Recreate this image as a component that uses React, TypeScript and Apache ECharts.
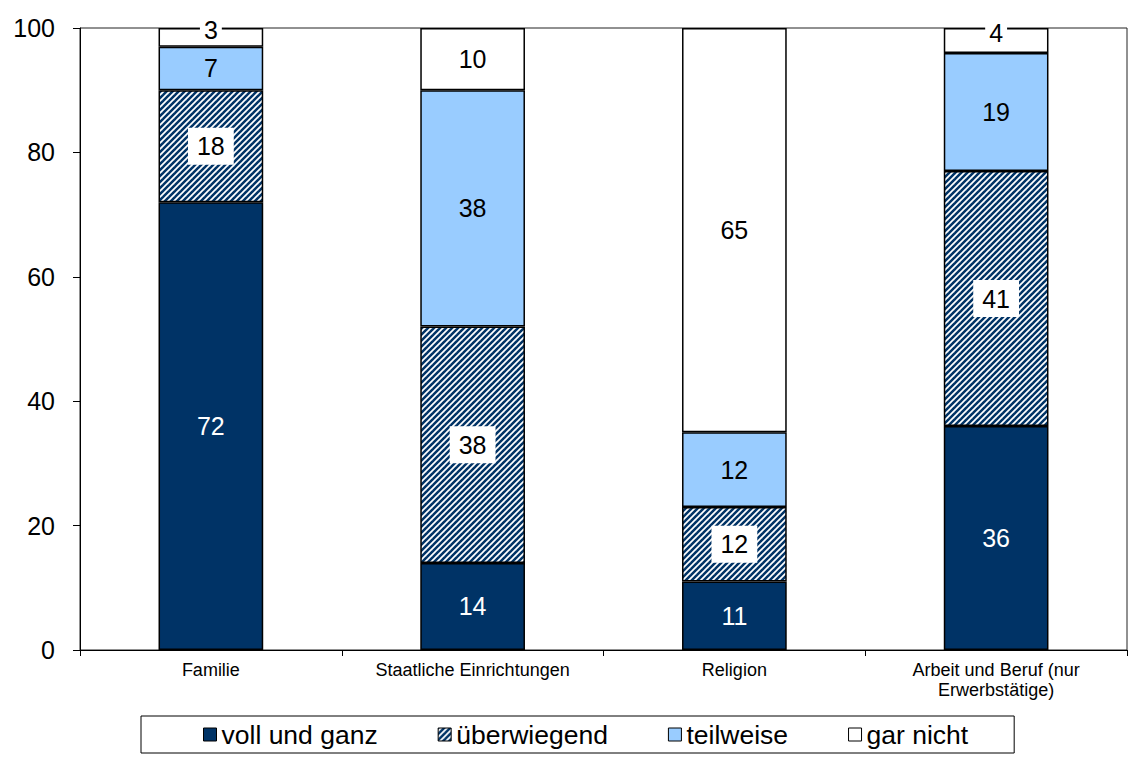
import React, { useEffect, useRef } from "react";
import * as echarts from "echarts";

const categories = ["Familie", "Staatliche Einrichtungen", "Religion", "Arbeit und Beruf (nur\nErwerbstätige)"];
const seriesNames = ["voll und ganz", "überwiegend", "teilweise", "gar nicht"];
const vollUndGanz = [72, 14, 11, 36];
const ueberwiegend = [18, 38, 12, 41];
const teilweise = [7, 38, 12, 19];
const garNicht = [3, 10, 65, 4];
const yTicks = { min: 0, max: 100, interval: 20 };

const NAVY = "#003366";
const LIGHT = "#99CCFF";
const FONT = "'Liberation Sans', Arial, sans-serif";

function makeHatch() {
  const N = 6;
  const c = document.createElement("canvas");
  c.width = N;
  c.height = N;
  const ctx = c.getContext("2d")!;
  ctx.fillStyle = "#ffffff";
  ctx.fillRect(0, 0, N, N);
  ctx.strokeStyle = NAVY;
  ctx.lineWidth = N / (2 * Math.SQRT2) + 0.4;
  for (let k = -2; k <= 3; k++) {
    const cc = k * N;
    ctx.beginPath();
    ctx.moveTo(cc + N * 2, -N * 2);
    ctx.lineTo(cc - N * 2, N * 2);
    ctx.stroke();
  }
  return c;
}

export default function App() {
  const ref = useRef<HTMLDivElement>(null);
  useEffect(() => {
    if (!ref.current) return;
    const chart = echarts.init(ref.current, null, { renderer: "svg" });
    const hatch = makeHatch();
    const border = { borderColor: "#000", borderWidth: 1.5 };
    const labelBase = {
      show: true,
      position: "inside" as const,
      fontSize: 25,
      fontFamily: FONT,
      color: "#000",
    };
    const mk = (name: string, data: number[], fill: any, label: any) => ({
      name,
      type: "bar",
      stack: "total",
      barWidth: "40%",
      data: data.map((v) => ({
        value: v,
        label: v < 5 ? { offset: [0, -7] } : undefined,
      })),
      itemStyle: { color: fill, ...border },
      label: { ...labelBase, ...label },
    });
    chart.setOption({
      animation: false,
      grid: {
        left: 80,
        right: 8,
        top: 28,
        bottom: 115,
        show: true,
        borderColor: "#222",
        borderWidth: 1,
      },
      xAxis: {
        type: "category",
        data: categories,
        axisLine: { lineStyle: { color: "#000", width: 1 } },
        axisTick: { show: true, length: 6, lineStyle: { color: "#000" } },
        axisLabel: { fontSize: 18, fontFamily: FONT, color: "#000", margin: 10, lineHeight: 20 },
      },
      yAxis: {
        type: "value",
        min: yTicks.min,
        max: yTicks.max,
        interval: yTicks.interval,
        axisLine: { show: true, lineStyle: { color: "#000", width: 1 } },
        axisTick: { show: true, length: 7, lineStyle: { color: "#000" } },
        splitLine: { show: false },
        axisLabel: { fontSize: 25, fontFamily: FONT, color: "#000", margin: 25 },
      },
      legend: {
        left: 141,
        top: 716,
        data: seriesNames,
        padding: [5, 46, 5, 62],
        itemGap: 60,
        itemWidth: 13,
        itemHeight: 13,
        icon: "rect",
        borderColor: "#000",
        borderWidth: 1,
        backgroundColor: "#fff",
        itemStyle: { borderColor: "#000", borderWidth: 1 },
        textStyle: { fontSize: 26.5, fontFamily: FONT, color: "#000", lineHeight: 26 },
      },
      series: [
        mk(seriesNames[0], vollUndGanz, NAVY, { color: "#fff" }),
        mk(seriesNames[1], ueberwiegend, { image: hatch, repeat: "repeat" }, {
          backgroundColor: "#fff",
          padding: [6, 9],
        }),
        mk(seriesNames[2], teilweise, LIGHT, {}),
        mk(seriesNames[3], garNicht, "#fff", { backgroundColor: "#fff", padding: [0, 4] }),
      ],
    });
    return () => chart.dispose();
  }, []);
  return (
    <div
      ref={ref}
      style={{ position: "fixed", left: 0, top: 0, width: 1135, height: 765, background: "#fff" }}
    />
  );
}
